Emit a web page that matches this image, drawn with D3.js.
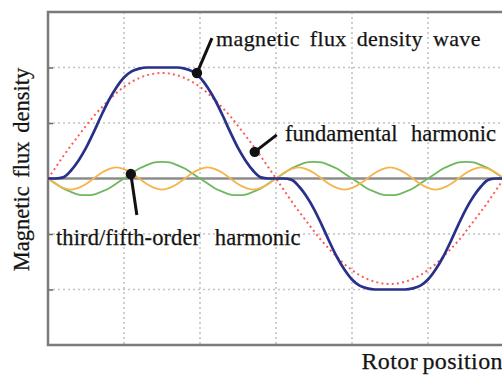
<!DOCTYPE html>
<html><head><meta charset="utf-8">
<script src="https://cdn.jsdelivr.net/npm/d3@7"></script>
<style>body{margin:0;background:#fff}svg{display:block}
.lbl{font-family:"Liberation Serif","DejaVu Serif","Times New Roman",serif;fill:#141414;stroke:#141414;stroke-width:0.25px}</style>
</head><body>
<script>
// Rotor position samples (grid units, one full electrical period = 6 units)
const rotorPos = d3.range(61).map(i => +(i * 0.1).toFixed(1));

// Values (grid units)
const fluxWave = [0, 0, 0.02, 0.14, 0.32, 0.55, 0.83, 1.13, 1.41, 1.64, 1.82, 1.93, 1.98, 2, 2, 2, 2, 2, 1.98, 1.93, 1.82, 1.64, 1.41, 1.13, 0.83, 0.55, 0.32, 0.14, 0.02, 0, 0,
  0, -0.02, -0.14, -0.32, -0.55, -0.83, -1.13, -1.41, -1.64, -1.82, -1.93, -1.98, -2, -2, -2, -2, -2, -1.98, -1.93, -1.82, -1.64, -1.41, -1.13, -0.83, -0.55, -0.32, -0.14, -0.02, 0, 0];
const fundamental = [0, 0.2, 0.4, 0.59, 0.77, 0.95, 1.12, 1.27, 1.41, 1.54, 1.65, 1.74, 1.81, 1.86, 1.89, 1.9, 1.89, 1.86, 1.81, 1.74, 1.65, 1.54, 1.41, 1.27, 1.12, 0.95, 0.77, 0.59, 0.4, 0.2, 0,
  -0.2, -0.4, -0.59, -0.77, -0.95, -1.12, -1.27, -1.41, -1.54, -1.65, -1.74, -1.81, -1.86, -1.89, -1.9, -1.89, -1.86, -1.81, -1.74, -1.65, -1.54, -1.41, -1.27, -1.12, -0.95, -0.77, -0.59, -0.4, -0.2, 0];
const thirdHarmonic = [0, -0.09, -0.18, -0.24, -0.29, -0.3, -0.29, -0.24, -0.18, -0.09, 0, 0.09, 0.18, 0.24, 0.29, 0.3, 0.29, 0.24, 0.18, 0.09, 0, -0.09, -0.18, -0.24, -0.29, -0.3, -0.29, -0.24, -0.18, -0.09, 0,
  0.09, 0.18, 0.24, 0.29, 0.3, 0.29, 0.24, 0.18, 0.09, 0, -0.09, -0.18, -0.24, -0.29, -0.3, -0.29, -0.24, -0.18, -0.09, 0, 0.09, 0.18, 0.24, 0.29, 0.3, 0.29, 0.24, 0.18, 0.09, 0];
const fifthHarmonic = [0, -0.1, -0.17, -0.2, -0.17, -0.1, 0, 0.1, 0.17, 0.2, 0.17, 0.1, 0, -0.1, -0.17, -0.2, -0.17, -0.1, 0, 0.1, 0.17, 0.2, 0.17, 0.1, 0, -0.1, -0.17, -0.2, -0.17, -0.1, 0,
  0.1, 0.17, 0.2, 0.17, 0.1, 0, -0.1, -0.17, -0.2, -0.17, -0.1, 0, 0.1, 0.17, 0.2, 0.17, 0.1, 0, -0.1, -0.17, -0.2, -0.17, -0.1, 0, 0.1, 0.17, 0.2, 0.17, 0.1, 0];

const xTicks = [1, 2, 3, 4, 5];
const yTicks = [-2, -1, 1, 2];

// Annotations: marker position in data units, label text
const annotLabels = ["magnetic flux density wave", "fundamental harmonic", "third/fifth-order harmonic"];
const annotX = [1.96, 2.72, 1.09];
const annotY = [1.9, 0.48, 0.08];

const W = 502, H = 376;
const svg = d3.select("body").append("svg").attr("width", W).attr("height", H);

const x = d3.scaleLinear().domain([0, 6]).range([48, 504]);
const y = d3.scaleLinear().domain([-3, 3]).range([345, 12]);

// grid
svg.append("g").selectAll("line").data(xTicks).join("line")
  .attr("x1", d => x(d)).attr("x2", d => x(d)).attr("y1", y(3)).attr("y2", y(-3))
  .attr("stroke", "#c4c4c4").attr("stroke-width", 1.6).attr("stroke-dasharray", "2,3");
svg.append("g").selectAll("line").data(yTicks).join("line")
  .attr("x1", x(0)).attr("x2", x(6)).attr("y1", d => y(d)).attr("y2", d => y(d))
  .attr("stroke", "#c4c4c4").attr("stroke-width", 1.6).attr("stroke-dasharray", "2,3");

// left axis with small inward ticks
const yAxis = d3.axisLeft(y).tickValues(yTicks).tickSize(-5).tickFormat("");
const gy = svg.append("g").attr("transform", `translate(${x(0)},0)`).call(yAxis);
gy.select(".domain").remove();
gy.selectAll(".tick line").attr("stroke", "#666").attr("stroke-width", 1.5);

// zero line
svg.append("line").attr("x1", x(0)).attr("x2", x(6)).attr("y1", y(0)).attr("y2", y(0))
  .attr("stroke", "#8c8c8c").attr("stroke-width", 2.6);

// frame
svg.append("path")
  .attr("d", `M${x(6)},${y(3)}H${x(0)}V${y(-3)}H${x(6)}`)
  .attr("fill", "none").attr("stroke", "#7a7a7a").attr("stroke-width", 2.5);

const lineNat = vals => d3.line().x((d, i) => x(rotorPos[i])).y(d => y(d)).curve(d3.curveNatural)(vals);
const lineMono = vals => d3.line().x((d, i) => x(rotorPos[i])).y(d => y(d)).curve(d3.curveMonotoneX)(vals);

svg.append("path").attr("d", lineNat(thirdHarmonic)).attr("fill", "none")
  .attr("stroke", "#6db85e").attr("stroke-width", 1.8);
svg.append("path").attr("d", lineNat(fifthHarmonic)).attr("fill", "none")
  .attr("stroke", "#f6b44c").attr("stroke-width", 1.8);
svg.append("path").attr("d", lineNat(fundamental)).attr("fill", "none")
  .attr("stroke", "#ff5a5a").attr("stroke-width", 2).attr("stroke-dasharray", "2,3.2");
svg.append("path").attr("d", lineMono(fluxWave)).attr("fill", "none")
  .attr("stroke", "#28308a").attr("stroke-width", 2.7).attr("stroke-linejoin", "round");

// leaders
const leaderDx = [15, 22, 6];
const leaderDy = [-35, -17, 41];
const ann = svg.append("g");
annotX.forEach((ax, i) => {
  const cx = x(ax), cy = y(annotY[i]);
  ann.append("line").attr("x1", cx).attr("y1", cy).attr("x2", cx + leaderDx[i]).attr("y2", cy + leaderDy[i])
    .attr("stroke", "#111").attr("stroke-width", 3);
  ann.append("circle").attr("cx", cx).attr("cy", cy).attr("r", 5.2).attr("fill", "#111");
});

const labelPos = [[216, 46], [285, 141], [56, 245]];
const labelWs = [4, 8, 9];
const labelLs = [0.4, 0, 0.1];
const labelFs = [22, 22.5, 22.5];
const txt = svg.append("g");
annotLabels.forEach((t, i) => {
  txt.append("text").attr("class", "lbl").attr("x", labelPos[i][0]).attr("y", labelPos[i][1])
    .style("font-size", labelFs[i] + "px").style("word-spacing", labelWs[i] + "px")
    .style("letter-spacing", labelLs[i] + "px").text(t);
});

// axis titles
txt.append("text").attr("class", "lbl").attr("transform", `translate(29,${y(0) - 9}) rotate(-90)`)
  .attr("text-anchor", "middle").style("font-size", "22.5px").style("word-spacing", "3px")
  .text("Magnetic flux density");
txt.append("text").attr("class", "lbl").attr("x", 503).attr("y", 369).attr("text-anchor", "end")
  .style("font-size", "24px").style("word-spacing", "-2px").style("letter-spacing", "0.4px").text("Rotor position");
</script>
</body></html>
